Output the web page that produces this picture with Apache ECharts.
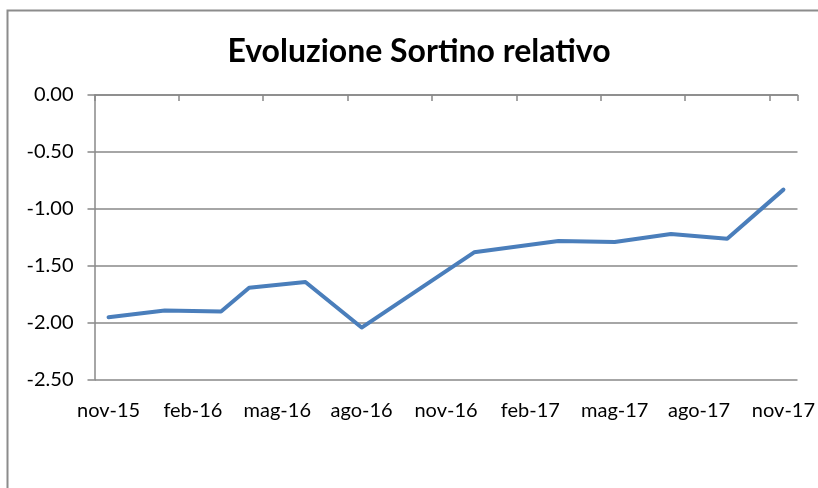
<!DOCTYPE html>
<html>
<head>
<meta charset="utf-8">
<script src="https://cdn.jsdelivr.net/npm/echarts@6/dist/echarts.min.js"></script>
<style>
html,body{margin:0;padding:0;background:#fff;}
#chart{width:818px;height:488px;}
</style>
</head>
<body>
<div id="chart"></div>
<script>
var titleText = 'Evoluzione Sortino relativo';
var months = ['nov-15','dic-15','gen-16','feb-16','mar-16','apr-16','mag-16','giu-16','lug-16','ago-16','set-16','ott-16',
              'nov-16','dic-16','gen-17','feb-17','mar-17','apr-17','mag-17','giu-17','lug-17','ago-17','set-17','ott-17','nov-17'];
// observations (null = no observation in that month)
var sortinoValues = [-1.95, null, -1.89, null, -1.90, -1.69, null, -1.64, null, -2.04, null, null,
                     null, -1.38, null, null, -1.28, null, -1.29, null, -1.22, null, -1.26, null, -0.83];
var yTicks = [0, -0.5, -1, -1.5, -2, -2.5];

var chart = echarts.init(document.getElementById('chart'));
var font = 'Lato';
chart.setOption({
  backgroundColor: '#fff',
  animation: false,
  title: {
    text: titleText,
    left: 414, top: 31, textAlign: 'center',
    textStyle: {fontFamily: font, fontWeight: 'bold', fontSize: 32, color: '#000'}
  },
  graphic: [{
    type: 'rect', shape: {x: 7.5, y: 10.5, width: 2000, height: 2000},
    style: {fill: 'none', stroke: '#8c8c8c', lineWidth: 2}, silent: true
  }],
  grid: {left: 94.5, right: 19.5, top: 95, bottom: 108, containLabel: false},
  xAxis: [{
    type: 'category', data: months, position: 'bottom', boundaryGap: true,
    axisLine: {show: false}, axisTick: {show: false},
    axisLabel: {interval: 2, margin: 21, fontFamily: font, fontSize: 20, color: '#000'}
  }, {
    type: 'category', data: months, position: 'top', boundaryGap: true,
    axisLine: {show: true, lineStyle: {color: '#888', width: 1.5}},
    axisTick: {show: true, inside: true, interval: 2, length: 6, lineStyle: {color: '#888', width: 1.5}},
    axisLabel: {show: false}
  }],
  yAxis: {
    type: 'value', min: -2.5, max: 0, interval: 0.5,
    axisLine: {show: true, lineStyle: {color: '#888', width: 1.5}},
    axisTick: {show: true, length: 7, lineStyle: {color: '#888', width: 1.5}},
    splitLine: {show: true, lineStyle: {color: '#888', width: 1.5}},
    axisLabel: {margin: 21, fontFamily: font, fontSize: 20, color: '#000',
      formatter: function (v) { return v.toFixed(2); }}
  },
  series: [{
    type: 'line', xAxisIndex: 0, data: sortinoValues, connectNulls: true,
    symbol: 'none', lineStyle: {color: '#4a7ebb', width: 4, cap: 'round', join: 'round'}
  }]
});
</script>
</body>
</html>
